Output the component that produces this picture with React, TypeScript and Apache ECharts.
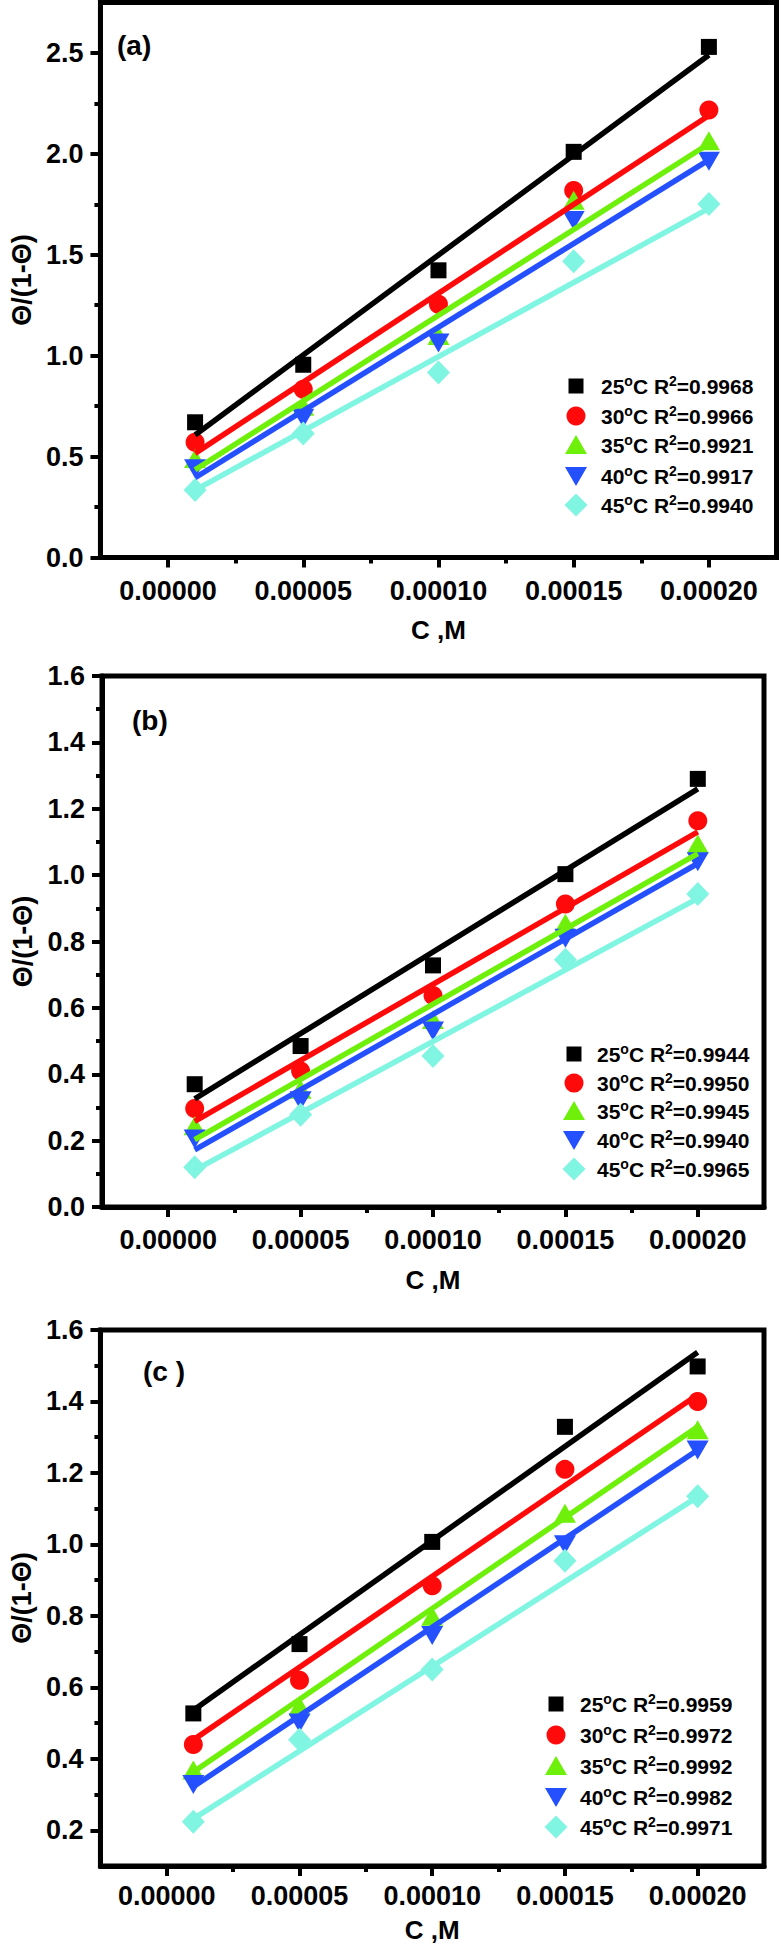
import React, { useEffect, useRef } from "react";
import * as echarts from "echarts";

// ---------- data ----------
const X_VALUES = [0.00001, 0.00005, 0.0001, 0.00015, 0.0002];
const X_MAJOR = [0, 0.00005, 0.0001, 0.00015, 0.0002];
const X_MINOR = [0.000025, 0.000075, 0.000125, 0.000175];
const TEMP_LABELS = ["25", "30", "35", "40", "45"];

// panel (a)
const A_25 = [0.67, 0.955, 1.423, 2.01, 2.53];
const A_30 = [0.571, 0.834, 1.255, 1.818, 2.217];
const A_35 = [0.49, 0.75, 1.1, 1.77, 2.065];
const A_40 = [0.44, 0.69, 1.063, 1.67, 1.964];
const A_45 = [0.335, 0.615, 0.917, 1.468, 1.751];
const A_FIT_START = [0.607, 0.516, 0.435, 0.395, 0.334];
const A_FIT_END = [2.49, 2.19, 2.05, 1.97, 1.73];
const A_R2 = ["0.9968", "0.9966", "0.9921", "0.9917", "0.9940"];
const A_Y_MAJOR = [0, 0.5, 1.0, 1.5, 2.0, 2.5];
const A_Y_MINOR = [0.25, 0.75, 1.25, 1.75, 2.25];

// panel (b)
const B_25 = [0.37, 0.485, 0.728, 1.003, 1.29];
const B_30 = [0.297, 0.41, 0.637, 0.913, 1.164];
const B_35 = [0.245, 0.355, 0.565, 0.855, 1.094];
const B_40 = [0.205, 0.32, 0.53, 0.81, 1.04];
const B_45 = [0.12, 0.278, 0.455, 0.745, 0.943];
const B_FIT_START = [0.326, 0.258, 0.203, 0.172, 0.111];
const B_FIT_END = [1.26, 1.13, 1.065, 1.035, 0.93];
const B_R2 = ["0.9944", "0.9950", "0.9945", "0.9940", "0.9965"];
const B_Y_MAJOR = [0, 0.2, 0.4, 0.6, 0.8, 1.0, 1.2, 1.4, 1.6];
const B_Y_MINOR = [0.1, 0.3, 0.5, 0.7, 0.9, 1.1, 1.3, 1.5];

// panel (c)
const C_25 = [0.527, 0.721, 1.007, 1.329, 1.498];
const C_30 = [0.44, 0.62, 0.884, 1.21, 1.4];
const C_35 = [0.369, 0.548, 0.799, 1.087, 1.321];
const C_40 = [0.328, 0.5, 0.745, 0.999, 1.264];
const C_45 = [0.224, 0.453, 0.65, 0.954, 1.135];
const C_FIT_START = [0.536, 0.453, 0.363, 0.322, 0.232];
const C_FIT_END = [1.538, 1.419, 1.329, 1.264, 1.133];
const C_R2 = ["0.9959", "0.9972", "0.9992", "0.9982", "0.9971"];
const C_Y_MAJOR = [0.2, 0.4, 0.6, 0.8, 1.0, 1.2, 1.4, 1.6];
const C_Y_MINOR = [0.3, 0.5, 0.7, 0.9, 1.1, 1.3, 1.5];

// ---------- style ----------
const FONT = "'Liberation Sans', Arial, Helvetica, sans-serif";
const COLORS = ["#000000", "#ff0a0a", "#6ef00a", "#2450ff", "#80f5e2"];
const SYMBOLS = ["rect", "circle", "triangle", "triangle", "diamond"];
const SYMBOL_SIZES: any[] = [16, 19, [22, 19], [22, 19], [23, 24]];
const SYMBOL_ROTATE = [0, 0, 0, 180, 0];

type Panel = {
  label: string;
  series: number[][];
  fitStart: number[];
  fitEnd: number[];
  r2: string[];
  yMin: number;
  yMax: number;
  yMajor: number[];
  yMinor: number[];
  grid: { left: number; top: number; width: number; height: number };
  xLabelMargin: number;
  xNameGap: number;
  yNameGap: number;
  tag: { x: number; y: number };
  legend: { symX: number; textX: number; rows: number[] };
};

const PANELS: Panel[] = [
  {
    label: "(a)",
    series: [A_25, A_30, A_35, A_40, A_45],
    fitStart: A_FIT_START,
    fitEnd: A_FIT_END,
    r2: A_R2,
    yMin: 0,
    yMax: 2.75,
    yMajor: A_Y_MAJOR,
    yMinor: A_Y_MINOR,
    grid: { left: 91, top: 2.5, width: 685.5, height: 555 },
    xLabelMargin: 20,
    xNameGap: 59,
    yNameGap: 64,
    tag: { x: 117, y: 45 },
    legend: { symX: 576, textX: 601, rows: [386, 416, 445, 476, 505] },
  },
  {
    label: "(b)",
    series: [B_25, B_30, B_35, B_40, B_45],
    fitStart: B_FIT_START,
    fitEnd: B_FIT_END,
    r2: B_R2,
    yMin: 0,
    yMax: 1.6,
    yMajor: B_Y_MAJOR,
    yMinor: B_Y_MINOR,
    grid: { left: 102, top: 676, width: 662, height: 531 },
    xLabelMargin: 19,
    xNameGap: 60,
    yNameGap: 61,
    tag: { x: 132, y: 720 },
    legend: { symX: 574, textX: 597, rows: [1054, 1083, 1111, 1140, 1169] },
  },
  {
    label: "(c )",
    series: [C_25, C_30, C_35, C_40, C_45],
    fitStart: C_FIT_START,
    fitEnd: C_FIT_END,
    r2: C_R2,
    yMin: 0.1,
    yMax: 1.6,
    yMajor: C_Y_MAJOR,
    yMinor: C_Y_MINOR,
    grid: { left: 100, top: 1330, width: 664, height: 536 },
    xLabelMargin: 16,
    xNameGap: 51,
    yNameGap: 63,
    tag: { x: 143, y: 1371 },
    legend: { symX: 556, textX: 580, rows: [1704, 1735, 1766, 1797, 1827] },
  },
];

function legendSymbol(i: number, cx: number, cy: number) {
  const style = { fill: COLORS[i] };
  if (i === 0) return { type: "rect", shape: { x: cx - 7.5, y: cy - 7.5, width: 15, height: 15 }, style };
  if (i === 1) return { type: "circle", shape: { cx, cy, r: 9.5 }, style };
  if (i === 2)
    return { type: "polygon", shape: { points: [[cx, cy - 10], [cx + 11, cy + 9], [cx - 11, cy + 9]] }, style };
  if (i === 3)
    return { type: "polygon", shape: { points: [[cx - 11, cy - 9], [cx + 11, cy - 9], [cx, cy + 10]] }, style };
  return { type: "polygon", shape: { points: [[cx, cy - 11.5], [cx + 11.5, cy], [cx, cy + 11.5], [cx - 11.5, cy]] }, style };
}

function buildOption() {
  const grid: any[] = [];
  const xAxis: any[] = [];
  const yAxis: any[] = [];
  const series: any[] = [];
  const graphic: any[] = [];

  const labelStyle = { fontFamily: FONT, fontWeight: "bold", color: "#000" };

  PANELS.forEach((p, g) => {
    grid.push({
      left: p.grid.left,
      top: p.grid.top,
      width: p.grid.width,
      height: p.grid.height,
      show: true,
      borderColor: "#000",
      borderWidth: 5,
      backgroundColor: "transparent",
      containLabel: false,
    });

    // main x axis
    xAxis.push({
      type: "value",
      gridIndex: g,
      position: "bottom",
      min: -0.000025,
      max: 0.000225,
      name: "C ,M",
      nameLocation: "middle",
      nameGap: p.xNameGap,
      nameTextStyle: { ...labelStyle, fontSize: 26 },
      axisLine: { show: true, onZero: false, lineStyle: { color: "#000", width: 5 } },
      axisTick: { show: true, customValues: X_MAJOR, length: 10, inside: false, lineStyle: { color: "#000", width: 4 } },
      axisLabel: {
        show: true,
        customValues: X_MAJOR,
        formatter: (v: number) => v.toFixed(5),
        margin: p.xLabelMargin,
        fontSize: 27,
        ...labelStyle,
      },
      splitLine: { show: false },
    });
    // minor x ticks
    xAxis.push({
      type: "value",
      gridIndex: g,
      position: "bottom",
      min: -0.000025,
      max: 0.000225,
      axisLine: { show: false, onZero: false },
      axisTick: { show: true, customValues: X_MINOR, length: 6, inside: false, lineStyle: { color: "#000", width: 4 } },
      axisLabel: { show: false },
      splitLine: { show: false },
    });

    // main y axis
    yAxis.push({
      type: "value",
      gridIndex: g,
      position: "left",
      min: p.yMin,
      max: p.yMax,
      name: "Θ/(1-Θ)",
      nameLocation: "middle",
      nameGap: p.yNameGap,
      nameTextStyle: { ...labelStyle, fontSize: 27 },
      axisLine: { show: true, onZero: false, lineStyle: { color: "#000", width: 5 } },
      axisTick: { show: true, customValues: p.yMajor, length: 10, inside: false, lineStyle: { color: "#000", width: 4 } },
      axisLabel: {
        show: true,
        customValues: p.yMajor,
        formatter: (v: number) => v.toFixed(1),
        margin: 17,
        fontSize: 27,
        ...labelStyle,
      },
      splitLine: { show: false },
    });
    // minor y ticks
    yAxis.push({
      type: "value",
      gridIndex: g,
      position: "left",
      min: p.yMin,
      max: p.yMax,
      axisLine: { show: false, onZero: false },
      axisTick: { show: true, customValues: p.yMinor, length: 6, inside: false, lineStyle: { color: "#000", width: 4 } },
      axisLabel: { show: false },
      splitLine: { show: false },
    });

    p.series.forEach((vals, i) => {
      series.push({
        type: "scatter",
        name: TEMP_LABELS[i] + "°C",
        xAxisIndex: g * 2,
        yAxisIndex: g * 2,
        data: X_VALUES.map((x, j) => [x, vals[j]]),
        symbol: SYMBOLS[i],
        symbolSize: SYMBOL_SIZES[i],
        symbolRotate: SYMBOL_ROTATE[i],
        itemStyle: { color: COLORS[i], opacity: 1 },
        silent: true,
      });
      series.push({
        type: "line",
        name: TEMP_LABELS[i] + "°C fit",
        xAxisIndex: g * 2,
        yAxisIndex: g * 2,
        data: [
          [X_VALUES[0], p.fitStart[i]],
          [X_VALUES[X_VALUES.length - 1], p.fitEnd[i]],
        ],
        symbol: "none",
        showSymbol: false,
        lineStyle: { color: COLORS[i], width: 5.5 },
        silent: true,
      });
    });

    graphic.push({
      type: "text",
      x: p.tag.x,
      y: p.tag.y,
      style: {
        text: p.label,
        fontSize: 28,
        fontWeight: "bold",
        fontFamily: FONT,
        fill: "#000",
        align: "left",
        verticalAlign: "middle",
      },
    });

    p.legend.rows.forEach((cy, i) => {
      graphic.push(legendSymbol(i, p.legend.symX, cy));
      graphic.push({
        type: "text",
        x: p.legend.textX,
        y: cy,
        style: {
          text: `{n|${TEMP_LABELS[i]}}{s|o}{n|C R}{s|2}{n|=${p.r2[i]}}`,
          align: "left",
          verticalAlign: "middle",
          fill: "#000",
          rich: {
            n: { fontSize: 21, fontWeight: "bold", fontFamily: FONT, fill: "#000", lineHeight: 24 },
            s: { fontSize: 14, fontWeight: "bold", fontFamily: FONT, fill: "#000", lineHeight: 14, verticalAlign: "top" },
          },
        },
      });
    });
  });

  return {
    animation: false,
    backgroundColor: "#ffffff",
    grid,
    xAxis,
    yAxis,
    series,
    graphic,
  };
}

export default function App() {
  const ref = useRef<HTMLDivElement>(null);
  useEffect(() => {
    if (!ref.current) return;
    const chart = echarts.init(ref.current, undefined, { renderer: "svg" });
    chart.setOption(buildOption() as any);
    return () => chart.dispose();
  }, []);
  return (
    <div
      ref={ref}
      style={{ position: "absolute", left: 0, top: 0, width: 780, height: 1945, background: "#fff" }}
    />
  );
}
